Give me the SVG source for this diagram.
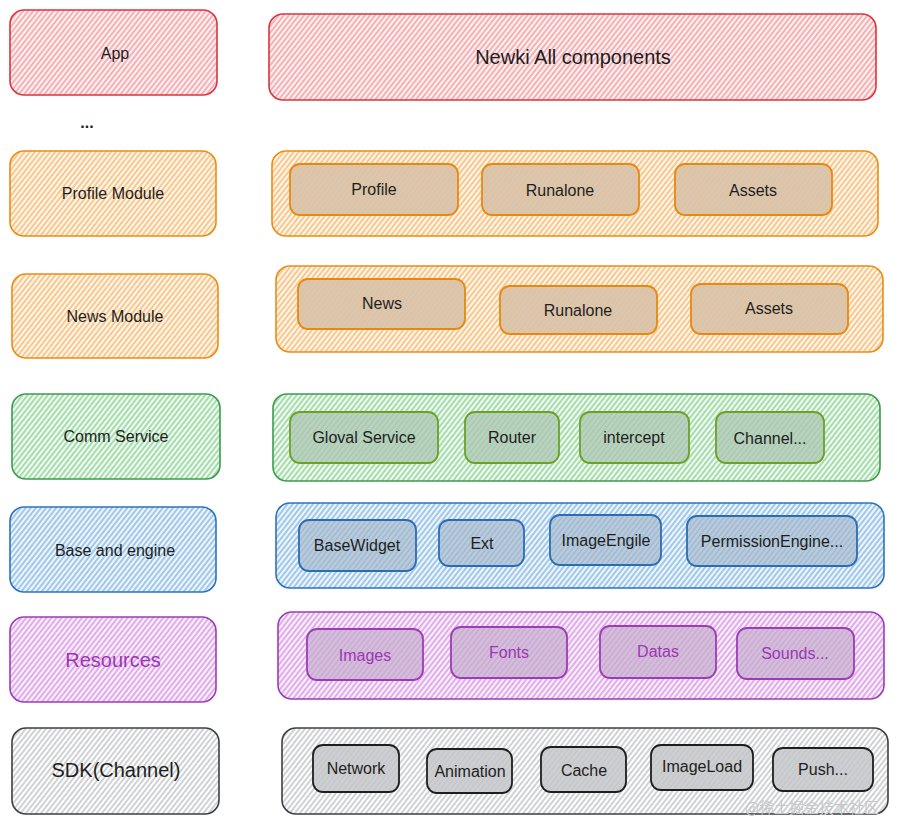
<svg xmlns="http://www.w3.org/2000/svg" width="898" height="824" viewBox="0 0 898 824">
<defs>
<pattern id="pRed" patternUnits="userSpaceOnUse" width="4" height="4" patternTransform="rotate(38)"><rect width="4" height="4" fill="#fff1f1"/><line x1="1" y1="0" x2="1" y2="4" stroke="#ef8f97" stroke-width="1.3"/></pattern>
<pattern id="pOrange" patternUnits="userSpaceOnUse" width="4" height="4" patternTransform="rotate(38)"><rect width="4" height="4" fill="#fff6ea"/><line x1="1" y1="0" x2="1" y2="4" stroke="#f5b062" stroke-width="1.3"/></pattern>
<pattern id="pGreen" patternUnits="userSpaceOnUse" width="4" height="4" patternTransform="rotate(38)"><rect width="4" height="4" fill="#f0fbf1"/><line x1="1" y1="0" x2="1" y2="4" stroke="#80cc8c" stroke-width="1.3"/></pattern>
<pattern id="pBlue" patternUnits="userSpaceOnUse" width="4" height="4" patternTransform="rotate(38)"><rect width="4" height="4" fill="#eef6fd"/><line x1="1" y1="0" x2="1" y2="4" stroke="#78afe0" stroke-width="1.3"/></pattern>
<pattern id="pPurple" patternUnits="userSpaceOnUse" width="4" height="4" patternTransform="rotate(38)"><rect width="4" height="4" fill="#fbf0fd"/><line x1="1" y1="0" x2="1" y2="4" stroke="#d488e2" stroke-width="1.3"/></pattern>
<pattern id="pGray" patternUnits="userSpaceOnUse" width="4" height="4" patternTransform="rotate(38)"><rect width="4" height="4" fill="#ffffff"/><line x1="1" y1="0" x2="1" y2="4" stroke="#a9adb2" stroke-width="1.1"/></pattern>
<pattern id="pInner" patternUnits="userSpaceOnUse" width="4" height="4" patternTransform="rotate(38)"><rect width="4" height="4" fill="#000" fill-opacity="0.05"/><line x1="3" y1="0" x2="3" y2="4" stroke="#8e9399" stroke-width="1.1" stroke-opacity="0.7"/></pattern>
</defs>
<style>
text{font-family:"Liberation Sans",Arial,sans-serif;font-size:16px;fill:#1e1e1e;text-anchor:middle;dominant-baseline:central}
.big{font-size:20px}
.box{stroke-width:1.6}
.in{stroke-width:1.8}
.red{fill:url(#pRed);stroke:#d9363e}
.org{fill:url(#pOrange);stroke:#ec8c14}
.grn{fill:url(#pGreen);stroke:#3d9c4e}
.blu{fill:url(#pBlue);stroke:#2c72c0}
.pur{fill:url(#pPurple);stroke:#9d3bb8}
.gry{fill:url(#pGray);stroke:#3c4043}
.inner{fill:url(#pInner)}
.io{stroke:#e8880f}
.ig{stroke:#6aa225}
.ib{stroke:#2c6cb5}
.ip{stroke:#9d3bb8}
.ik{stroke:#1e1e1e}
.ptxt{fill:#9c36b5}
</style>

<g id="app"><rect class="box red" x="10" y="10" width="207" height="85" rx="14"/><text x="115" y="53">App</text></g>
<g id="dots"><text x="87" y="122" style="font-weight:bold">...</text></g>
<g id="newki"><rect class="box red" x="269" y="14" width="607" height="86" rx="14"/><text class="big" x="573" y="57">Newki All components</text></g>

<g id="profileModule"><rect class="box org" x="10" y="151" width="206" height="85" rx="14"/><text x="113" y="193">Profile Module</text></g>
<g id="profileRow"><rect class="box org" x="272" y="151" width="606" height="85" rx="14"/>
<g id="profile"><rect class="in inner io" x="290" y="164" width="168" height="51" rx="10"/><text x="374" y="189">Profile</text></g>
<g id="runalone1"><rect class="in inner io" x="482" y="164" width="157" height="51" rx="10"/><text x="560" y="190">Runalone</text></g>
<g id="assets1"><rect class="in inner io" x="675" y="164" width="157" height="51" rx="10"/><text x="753" y="190">Assets</text></g>
</g>

<g id="newsModule"><rect class="box org" x="12" y="274" width="206" height="84" rx="14"/><text x="115" y="316">News Module</text></g>
<g id="newsRow"><rect class="box org" x="276" y="266" width="607" height="86" rx="14"/>
<g id="news"><rect class="in inner io" x="298" y="279" width="167" height="50" rx="10"/><text x="382" y="303">News</text></g>
<g id="runalone2"><rect class="in inner io" x="500" y="286" width="157" height="48" rx="10"/><text x="578" y="310">Runalone</text></g>
<g id="assets2"><rect class="in inner io" x="691" y="284" width="157" height="50" rx="10"/><text x="769" y="308">Assets</text></g>
</g>

<g id="commService"><rect class="box grn" x="12" y="394" width="208" height="85" rx="14"/><text x="116" y="436">Comm Service</text></g>
<g id="commRow"><rect class="box grn" x="273" y="394" width="607" height="87" rx="14"/>
<g id="gloval"><rect class="in inner ig" x="290" y="412" width="148" height="51" rx="10"/><text x="364" y="437">Gloval Service</text></g>
<g id="router"><rect class="in inner ig" x="465" y="412" width="94" height="51" rx="10"/><text x="512" y="437">Router</text></g>
<g id="intercept"><rect class="in inner ig" x="580" y="412" width="109" height="51" rx="10"/><text x="634" y="437">intercept</text></g>
<g id="channel"><rect class="in inner ig" x="716" y="412" width="108" height="51" rx="10"/><text x="770" y="438">Channel...</text></g>
</g>

<g id="baseEngine"><rect class="box blu" x="10" y="507" width="206" height="85" rx="14"/><text x="115" y="550">Base and engine</text></g>
<g id="baseRow"><rect class="box blu" x="276" y="503" width="608" height="85" rx="14"/>
<g id="baseWidget"><rect class="in inner ib" x="299" y="520" width="117" height="51" rx="10"/><text x="357" y="545">BaseWidget</text></g>
<g id="ext"><rect class="in inner ib" x="439" y="520" width="85" height="46" rx="10"/><text x="482" y="543">Ext</text></g>
<g id="imageEngile"><rect class="in inner ib" x="550" y="515" width="111" height="50" rx="10"/><text x="606" y="540">ImageEngile</text></g>
<g id="permission"><rect class="in inner ib" x="687" y="516" width="170" height="50" rx="10"/><text x="772" y="541">PermissionEngine...</text></g>
</g>

<g id="resources"><rect class="box pur" x="10" y="617" width="206" height="85" rx="14"/><text class="big ptxt" x="113" y="660">Resources</text></g>
<g id="resRow"><rect class="box pur" x="278" y="612" width="606" height="87" rx="14"/>
<g id="images"><rect class="in inner ip" x="307" y="629" width="116" height="51" rx="10"/><text class="ptxt" x="365" y="655">Images</text></g>
<g id="fonts"><rect class="in inner ip" x="451" y="627" width="116" height="51" rx="10"/><text class="ptxt" x="509" y="652">Fonts</text></g>
<g id="datas"><rect class="in inner ip" x="600" y="626" width="116" height="52" rx="10"/><text class="ptxt" x="658" y="651">Datas</text></g>
<g id="sounds"><rect class="in inner ip" x="737" y="628" width="117" height="51" rx="10"/><text class="ptxt" x="795" y="653">Sounds...</text></g>
</g>

<g id="sdk"><rect class="box gry" x="12" y="728" width="207" height="86" rx="14"/><text class="big" x="116" y="770">SDK(Channel)</text></g>
<g id="sdkRow"><rect class="box gry" x="282" y="728" width="606" height="86" rx="14"/>
<g id="network"><rect class="in inner ik" x="313" y="745" width="86" height="47" rx="10"/><text x="356" y="768">Network</text></g>
<g id="animation"><rect class="in inner ik" x="427" y="749" width="85" height="44" rx="10"/><text x="470" y="771">Animation</text></g>
<g id="cache"><rect class="in inner ik" x="541" y="747" width="85" height="45" rx="10"/><text x="584" y="770">Cache</text></g>
<g id="imageLoad"><rect class="in inner ik" x="651" y="745" width="102" height="45" rx="10"/><text x="702" y="766">ImageLoad</text></g>
<g id="push"><rect class="in inner ik" x="773" y="748" width="100" height="43" rx="10"/><text x="823" y="769">Push...</text></g>
</g>

<text x="812" y="806" style="font-family:'Noto Sans CJK SC','Liberation Sans',sans-serif;font-size:15px;fill:#c8c8c8">@稀土掘金技术社区</text>
</svg>
